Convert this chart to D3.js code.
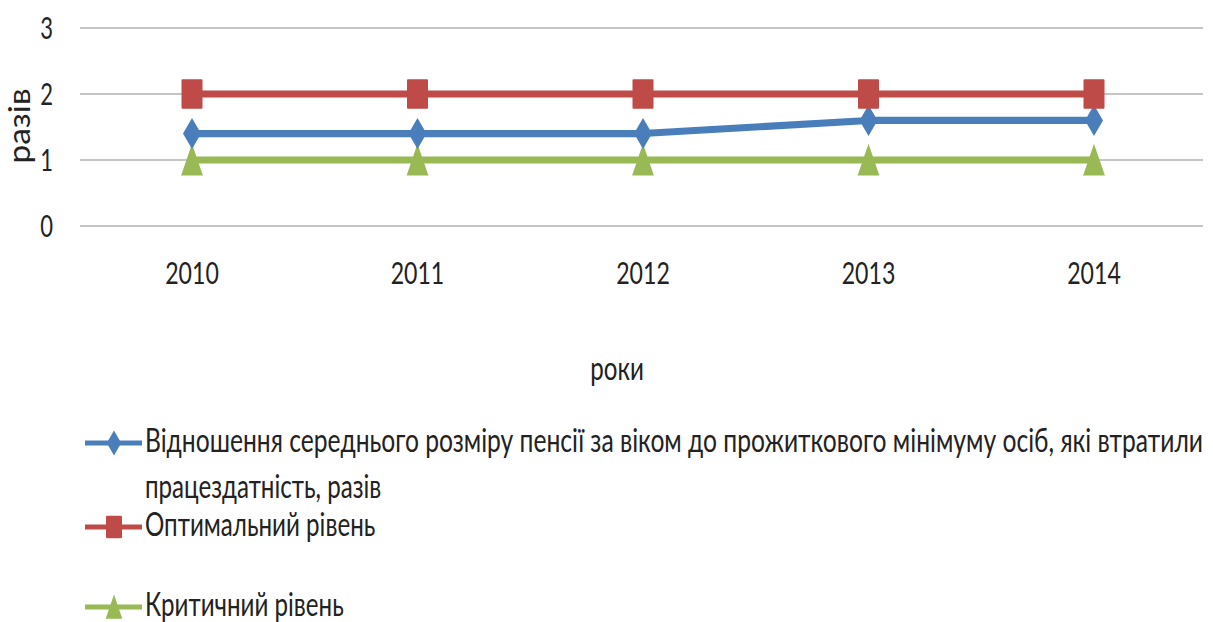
<!DOCTYPE html>
<html><head><meta charset="utf-8">
<script src="https://cdn.jsdelivr.net/npm/d3@7"></script>
<style>body{margin:0;background:#fff}text{font-family:Lato,"Open Sans",sans-serif;fill:#222}</style>
</head><body>
<svg id="c" width="1213" height="622"></svg>
<script>
const years = ["2010","2011","2012","2013","2014"];
const ratioValues = [1.4, 1.4, 1.4, 1.6, 1.6];
const optimalValues = [2, 2, 2, 2, 2];
const criticalValues = [1, 1, 1, 1, 1];
const yTicks = [0, 1, 2, 3];
const seriesNames = [
  ["Відношення середнього розміру пенсії за віком до прожиткового мінімуму осіб, які втратили", "працездатність, разів"],
  ["Оптимальний рівень"],
  ["Критичний рівень"]
];
const yTitle = "разів";
const xTitle = "роки";

const SY = 1.41;
const svg = d3.select("#c");
const g = svg.append("g").attr("transform", `scale(1,${SY})`);
const R = v => v / SY; // real y -> inner y

const x = d3.scalePoint().domain(years).range([192, 1094]);
const y = d3.scaleLinear().domain([0, 3]).range([R(226), R(28)]);

// gridlines
g.append("g").selectAll("line").data(yTicks).join("line")
  .attr("x1", 80).attr("x2", 1203)
  .attr("y1", d => y(d)).attr("y2", d => y(d))
  .attr("stroke", "#8c8c8c").attr("stroke-width", 1.2)
  .attr("vector-effect", "non-scaling-stroke");

// y tick labels
g.append("g").selectAll("text").data(yTicks).join("text")
  .attr("x", 53).attr("y", d => y(d)).attr("dy", "0.36em")
  .attr("text-anchor", "end").style("font-size", "22px").text(d => d);

// x tick labels
g.append("g").selectAll("text").data(years).join("text")
  .attr("class", "w")
  .attr("x", d => x(d)).attr("y", R(284))
  .attr("text-anchor", "middle").style("font-size", "22px").text(d => d);

// axis titles
svg.append("text").attr("transform", `translate(30,126) rotate(-90)`)
  .attr("text-anchor", "middle").style("font-size", "30px")
  .attr("textLength", 75).attr("lengthAdjust", "spacingAndGlyphs").text(yTitle);
g.append("text").attr("class", "w").attr("x", 617).attr("y", R(380))
  .attr("text-anchor", "middle").style("font-size", "23px").text(xTitle);

const colors = ["#4a7ebb", "#be4b48", "#98b954"];
const allSeries = [ratioValues, optimalValues, criticalValues];
const shapes = ["diamond", "square", "triangle"];

function marker(sel, shape, s) {
  if (shape === "square") {
    sel.append("rect").attr("x", -s/2).attr("y", -s/2).attr("width", s).attr("height", s).attr("rx", 1);
  } else if (shape === "diamond") {
    sel.append("path").attr("d", `M0,${-s*0.55}L${s*0.45},0L0,${s*0.55}L${-s*0.45},0Z`);
  } else {
    sel.append("path").attr("d", `M0,${-s*0.55}L${s*0.52},${s*0.52}L${-s*0.52},${s*0.52}Z`);
  }
}

const line = d3.line().x((d, i) => x(years[i])).y(d => y(d));
[2, 0, 1].forEach(k => {
  g.append("path").datum(allSeries[k]).attr("d", line)
    .attr("fill", "none").attr("stroke", colors[k]).attr("stroke-width", 5)
    .attr("stroke-linejoin", "round");
  const mg = g.append("g").attr("fill", colors[k]);
  allSeries[k].forEach((v, i) => {
    const m = mg.append("g").attr("transform", `translate(${x(years[i])},${y(v)})`);
    marker(m, shapes[k], shapes[k] === "diamond" ? 20 : 21);
  });
});

// legend
const legY = [443, 527, 607];
seriesNames.forEach((names, k) => {
  const cy = R(legY[k]);
  g.append("line").attr("x1", 85).attr("x2", 142).attr("y1", cy).attr("y2", cy)
    .attr("stroke", colors[k]).attr("stroke-width", 3.5);
  const m = g.append("g").attr("fill", colors[k]).attr("transform", `translate(114,${cy})`);
  marker(m, shapes[k], 16);
  names.forEach((t, j) => {
    const tx = g.append("text").attr("x", 145).attr("y", R(legY[k] + 9 + j * 46))
      .style("font-size", "23px").text(t);
    if (k === 0 && j === 0) tx.attr("textLength", 1058).attr("lengthAdjust", "spacingAndGlyphs");
    else tx.attr("class", "w");
  });
});

// widen text slightly to match the reference's glyph widths
g.selectAll("text.w").each(function() {
  const len = this.getComputedTextLength();
  d3.select(this).attr("textLength", len * 1.05).attr("lengthAdjust", "spacingAndGlyphs");
});
</script>
</body></html>
